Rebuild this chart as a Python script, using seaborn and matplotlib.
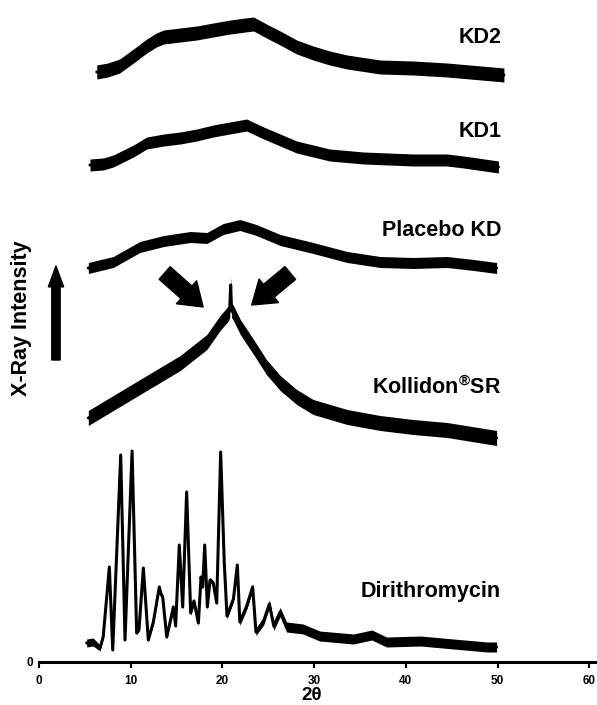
import numpy as np
import pandas as pd
import seaborn as sns
import matplotlib.pyplot as plt
from matplotlib.patches import FancyArrowPatch

# stacked XRD traces: 2theta and intensity (a.u., already offset), plus noise half-band
kd2_x = [6.3, 7.5, 8.8, 10.3, 11.75, 12.8, 13.6, 15.4, 17.2, 19.0, 20.85, 22.5, 23.4, 24.8, 26.3, 28.1, 29.9, 31.7, 33.6, 37.2, 40.8, 44.5, 50.7]
kd2_y = [590, 592, 596, 606, 616, 622, 625, 627, 629, 632, 635, 637, 638, 631, 624, 615, 609, 604, 600, 595, 594, 592, 587]
kd2_noise = 7.0

kd1_x = [5.56, 7.0, 8.1, 10.3, 11.75, 13.6, 15.4, 17.2, 19.0, 20.8, 22.65, 24.5, 26.3, 28.1, 29.9, 31.7, 35.4, 40.8, 44.5, 46.3, 50.1]
kd1_y = [497, 498, 501, 511, 519, 522, 524, 527, 531, 534, 537, 529, 522, 515, 511, 507, 504, 502, 502, 500, 495]
kd1_noise = 6.0

placebo_x = [5.38, 8.1, 11.0, 13.6, 16.5, 18.3, 20.1, 21.9, 23.7, 26.3, 29.9, 33.6, 37.2, 40.8, 44.5, 47.4, 49.9]
placebo_y = [394, 400, 415, 421, 425, 424, 433, 437, 432, 422, 414, 405, 400, 399, 400, 397, 394]
placebo_noise = 5.5

kollidon_x = [5.38, 8.1, 11.75, 15.4, 18.3, 19.75, 20.6, 20.8, 20.9, 21.0, 21.2, 21.95, 23.4, 24.8, 26.3, 28.1, 29.9, 33.6, 37.2, 40.8, 44.5, 49.9]
kollidon_y = [244, 259, 279, 299, 320, 339, 348, 352, 377, 352, 349, 335, 315, 295, 279, 265, 255, 245, 239, 235, 232, 224]
kollidon_noise = 7.5

dir_x = [5.2, 5.9, 6.65, 7.0, 7.67, 8.04, 8.91, 9.38, 10.15, 10.65, 10.9, 11.38, 11.92, 12.47, 13.12, 13.3,
         13.49, 13.93, 14.3, 14.65, 14.9, 15.3, 15.67, 16.1, 16.54, 16.9, 17.38, 17.67, 17.85, 18.07, 18.36,
         18.65, 19.0, 19.38, 19.81, 20.2, 20.5, 21.2, 21.63, 21.9, 22.65, 23.3, 23.66, 24.5, 25.12, 25.6,
         26.3, 27.0, 28.8, 30.6, 34.3, 36.3, 37.9, 41.6, 45.2, 48.9, 49.9]
dir_y = [19, 20, 14, 25, 95, 12, 207, 22, 211, 29, 32, 94, 22, 40, 75, 68,
         65, 25, 40, 55, 36, 117, 55, 170, 49, 61, 39, 85, 75, 117, 55,
         82, 79, 59, 210, 100, 46, 63, 97, 40, 56, 75, 30, 41, 58, 36,
         50, 35, 33, 26, 23, 27, 20, 21, 18, 15, 15]
dir_noise = [4, 4, 3, 2, 1.5, 1.5, 1.5, 1.5, 1.5, 1.5, 1.5, 1.5, 1.5, 2.5, 2.5, 2.5,
             2.5, 2, 2.5, 2.5, 2.5, 1.5, 2.5, 1.5, 2.5, 2.5, 2.5, 2.5, 2.5, 1.5, 2.5,
             2.5, 2.5, 2.5, 1.5, 2, 3, 3, 2, 3.5, 3.5, 3.5, 3.5, 4, 4, 4.5,
             4.5, 5, 5, 5, 5, 5, 5, 5, 5, 5, 5]

labels = ['KD2', 'KD1', 'Placebo KD', 'Kollidon$^{®}$SR', 'Dirithromycin']
label_y = [619, 525, 426, 268, 65]
xticks = [0, 10, 20, 30, 40, 50, 60]

sns.set_style('ticks')
plt.rcParams['font.family'] = ['Liberation Sans', 'DejaVu Sans']
plt.rcParams['mathtext.fontset'] = 'custom'
plt.rcParams['mathtext.rm'] = 'Liberation Sans:bold'
plt.rcParams['mathtext.it'] = 'Liberation Sans:bold'
plt.rcParams['mathtext.bf'] = 'Liberation Sans:bold'
plt.rcParams['mathtext.default'] = 'rm'
for k in ['text.color', 'axes.labelcolor', 'xtick.color', 'ytick.color', 'axes.edgecolor']:
    plt.rcParams[k] = 'black'

fig = plt.figure(figsize=(5.97, 7.05), dpi=100)
ax = fig.add_axes([39 / 597, 43 / 705, 558 / 597, 662 / 705])

traces = [
    (kd2_x, kd2_y, kd2_noise),
    (kd1_x, kd1_y, kd1_noise),
    (placebo_x, placebo_y, placebo_noise),
    (kollidon_x, kollidon_y, kollidon_noise),
    (dir_x, dir_y, dir_noise),
]
for x, y, hw in traces:
    x = np.array(x)
    y = np.array(y, dtype=float)
    hw = np.broadcast_to(np.array(hw, dtype=float), y.shape)
    ax.fill_between(x, y - hw, y + hw, color='black', lw=0)
    sns.lineplot(x=x, y=y, ax=ax, color='black', lw=2.2, sort=False)

for txt, ly in zip(labels, label_y):
    ax.text(50.4, ly, txt, ha='right', va='baseline', fontsize=15.5, fontweight='bold', color='black')

# intensity arrow on the left
ax.add_patch(FancyArrowPatch((1.85, 302), (1.85, 396), arrowstyle='simple,head_length=1.5,head_width=1.1,tail_width=0.6',
                             mutation_scale=10, color='black', shrinkA=0, shrinkB=0))
# arrows pointing at the Kollidon peak
for tail, tip in [((13.7, 389), (17.9, 355)), ((27.4, 389), (23.2, 357))]:
    ax.add_patch(FancyArrowPatch(tail, tip, arrowstyle='simple,head_length=1.6,head_width=2.2,tail_width=1.2',
                                 mutation_scale=10, color='black', shrinkA=0, shrinkB=0))

ax.set_xlim(0, 60.85)
ax.set_ylim(0, 662)
ax.set_xticks(xticks)
ax.set_xticklabels([str(t) for t in xticks], fontsize=8.5, fontweight='bold')
ax.set_yticks([0])
ax.set_yticklabels(['0'], fontsize=8.5, fontweight='bold')
ax.tick_params(axis='x', direction='out', length=4, width=1.5, pad=5, colors='black')
ax.tick_params(axis='y', length=0, pad=4, colors='black')
for s in ['left', 'right', 'top']:
    ax.spines[s].set_visible(False)
ax.spines['bottom'].set_linewidth(2.2)
ax.spines['bottom'].set_color('black')

ax.set_xlabel('2θ', fontsize=13.5, fontweight='bold')
ax.xaxis.set_label_coords(0.489, -0.05)
ax.xaxis.label.set_va('center')
ax.set_ylabel('X-Ray Intensity', fontsize=15.5, fontweight='bold', va='center')
ax.yaxis.set_label_coords(-0.032, 0.52)

fig.savefig('out.png', dpi=100)
